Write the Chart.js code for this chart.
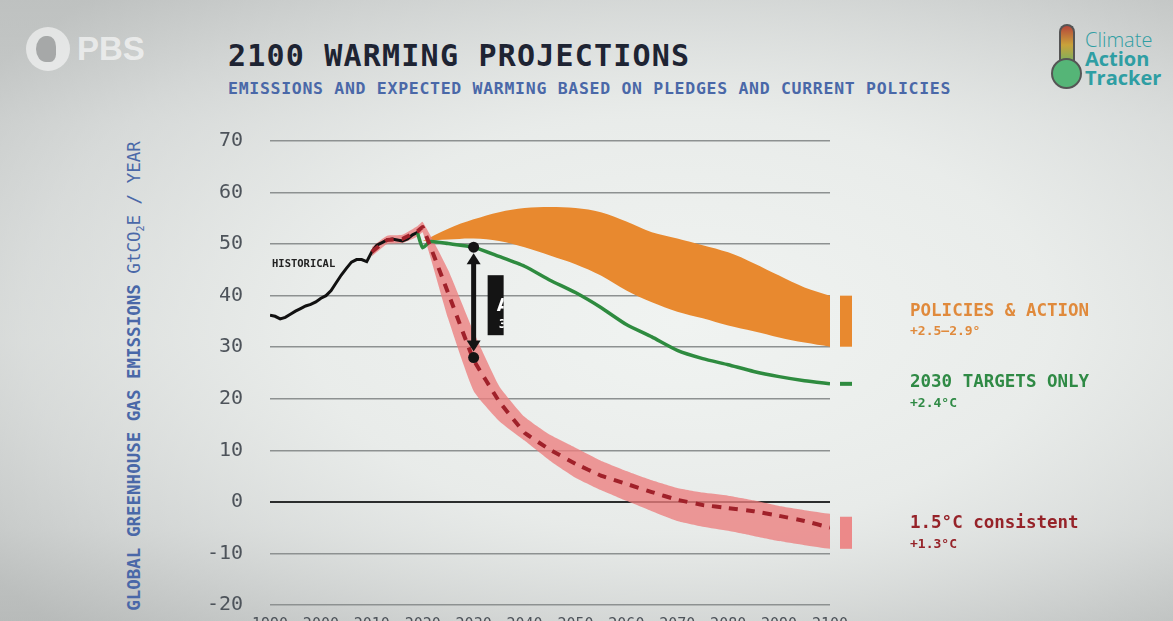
<!DOCTYPE html>
<html>
<head>
<meta charset="utf-8">
<script src="https://cdn.jsdelivr.net/npm/chart.js@4.4.1/dist/chart.umd.min.js"></script>
<style>
  html, body { margin: 0; padding: 0; width: 1173px; height: 621px; overflow: hidden; }
  body {
    position: relative;
    font-family: "DejaVu Sans Mono", monospace;
    background:
      radial-gradient(ellipse 70% 75% at 58% 52%, rgba(240,243,241,1) 0%, rgba(234,237,235,0.9) 45%, rgba(210,213,212,0.6) 80%, rgba(185,188,187,0.6) 100%),
      linear-gradient(to bottom, #c6c9c8 0%, #dde0df 20%, #e6e9e7 55%, #d3d6d5 85%, #b6b9b8 100%);
  }
  #chart { position: absolute; left: 0; top: 0; }
  .title { position: absolute; left: 228px; top: 41px; font-size: 30px; line-height: 30px; letter-spacing: 1.2px; font-weight: bold; color: #1e2433; white-space: nowrap; }
  .subtitle { position: absolute; left: 228px; top: 81px; font-size: 16.5px; line-height: 16.5px; letter-spacing: 0.7px; font-weight: bold; color: #4a68a8; white-space: nowrap; }
  .ytitle { position: absolute; left: 135px; top: 376px; transform: translate(-50%, -50%) rotate(-90deg); font-size: 17.5px; color: #4a68a8; white-space: nowrap; }
  .ytitle b { font-weight: bold; }
  .ytitle sub { font-size: 10px; }
  .pbs { position: absolute; left: 26px; top: 27px; width: 44px; height: 44px; border-radius: 50%; background: rgba(255,255,255,0.55); }
  .pbs::after { content: ""; position: absolute; left: 10px; top: 9px; width: 20px; height: 26px; border-radius: 50% 40% 30% 50%; background: rgba(150,153,152,0.8); }
  .pbstext { position: absolute; left: 77px; top: 30px; font-family: "Liberation Sans", sans-serif; font-weight: bold; font-size: 33px; line-height: 38px; color: rgba(255,255,255,0.62); }
  .thermo { position: absolute; left: 1059px; top: 24px; width: 12px; height: 42px; border: 2px solid #555; border-bottom: none; border-radius: 8px 8px 0 0; background: linear-gradient(to bottom, #b5473a 0%, #c9a23a 45%, #5db56c 100%); }
  .bulb { position: absolute; left: 1051px; top: 58px; width: 27px; height: 27px; border: 2px solid #555; border-radius: 50%; background: #55b577; }
  .cat { position: absolute; left: 1085px; top: 30px; font-family: "Open Sans", sans-serif; font-size: 20px; line-height: 19px; color: #2f9ea3; white-space: nowrap; }
  .cat b { font-weight: bold; display: block; }
  .cat span { display: block; font-weight: 300; }
</style>
</head>
<body>
<div class="pbs"></div>
<div class="pbstext">PBS</div>
<div class="thermo"></div>
<div class="bulb"></div>
<div class="cat"><span>Climate</span><b>Action</b><b>Tracker</b></div>
<div class="title">2100 WARMING PROJECTIONS</div>
<div class="subtitle">EMISSIONS AND EXPECTED WARMING BASED ON PLEDGES AND CURRENT POLICIES</div>
<div class="ytitle"><b>GLOBAL GREENHOUSE GAS EMISSIONS</b> GtCO<sub>2</sub>E / YEAR</div>
<canvas id="chart" width="1173" height="650"></canvas>
<script>
// historical emissions, GtCO2e / year
const histYears = [1990, 1991, 1992, 1993, 1994, 1995, 1996, 1997, 1998, 1999,
                   2000, 2001, 2002, 2003, 2004, 2005, 2006, 2007, 2008, 2009,
                   2010, 2011, 2012, 2013, 2014, 2015, 2016, 2017, 2018, 2019];
const histValues = [36.2, 36.0, 35.5, 35.8, 36.4, 37.0, 37.5, 38.0, 38.3, 38.8,
                    39.5, 40.0, 41.0, 42.5, 44.0, 45.3, 46.5, 47.0, 47.0, 46.6,
                    48.5, 49.8, 50.3, 50.8, 51.0, 50.8, 50.6, 51.0, 51.8, 52.3];

// policies & action range
const projYears = [2020, 2025, 2030, 2035, 2040, 2045, 2050, 2055, 2060,
                   2065, 2070, 2075, 2080, 2085, 2090, 2095, 2100];
const policyHigh = [50.6, 53, 54.8, 56.2, 57, 57.2, 57, 56.2, 54.4, 52.3, 51.1, 49.8, 48.4, 46.3, 43.9, 41.6, 40];
const policyLow = [50.6, 50.9, 51.1, 50.6, 49.4, 47.8, 46.1, 43.9, 41, 38.7, 36.9, 35.6, 34.2, 33.1, 31.9, 30.9, 30.1];

// 2030 targets only
const targetYears = [2019, 2020, 2021.5, 2025, 2030, 2035, 2040, 2045, 2050, 2055,
                     2060, 2065, 2070, 2075, 2080, 2085, 2090, 2095, 2100];
const targetValues = [52.1, 49.3, 50.5, 50.1, 49.4, 47.6, 45.7, 43, 40.6, 37.7,
                      34.4, 32, 29.4, 27.8, 26.6, 25.3, 24.3, 23.5, 22.9];

// 1.5C consistent pathway + range
const pathYears = [2010, 2013, 2016, 2019, 2020, 2025, 2030, 2035, 2040, 2045, 2050,
                   2055, 2060, 2065, 2070, 2075, 2080, 2085, 2090, 2095, 2100];
const pathValues = [48.5, 50.8, 51, 52.5, 53.3, 40.5, 27.5, 19.5, 13.4, 10.1, 7.4,
                    5.1, 3.5, 1.9, 0.4, -0.6, -1.2, -1.8, -2.7, -3.7, -5];
const pathHigh = [49.4, 51.6, 51.8, 53.5, 54.3, 45, 33, 22.5, 16.5, 13, 10.5,
                  8, 6, 4.2, 2.7, 1.8, 1.2, 0.3, -0.8, -1.6, -2.3];
const pathLow = [47.6, 50, 50.2, 51.5, 52.3, 35.5, 21.5, 15.7, 11.9, 8, 4.7,
                 2.3, 0.2, -1.8, -3.7, -4.8, -5.6, -6.6, -7.6, -8.4, -9.1];

// gap arrow at 2030 (between targets and 1.5C path)
const gapYear = 2030;
const gapTop = 49.4;
const gapBottom = 28;

const yTicks = [-20, -10, 0, 10, 20, 30, 40, 50, 60, 70];
const xTicks = [1990, 2000, 2010, 2020, 2030, 2040, 2050, 2060, 2070, 2080, 2090, 2100];

const pts = (xs, ys) => xs.map((x, i) => ({ x: x, y: ys[i] }));
const last = arr => arr[arr.length - 1];

const ORANGE = '#e8892f';
const PINK = 'rgba(236, 126, 126, 0.78)';
const GREEN = '#2e8b3f';
const DARKRED = '#a0212a';

const annotate = {
  id: 'annotate',
  afterDatasetsDraw(chart) {
    const { ctx, chartArea: a, scales: { x, y } } = chart;
    ctx.save();

    // gap arrow
    const ax = x.getPixelForValue(gapYear);
    const y1 = y.getPixelForValue(gapTop);
    const y2 = y.getPixelForValue(gapBottom);
    ctx.fillStyle = '#141414';
    ctx.strokeStyle = '#141414';
    ctx.lineWidth = 5;
    ctx.beginPath();
    ctx.moveTo(ax, y1 + 12);
    ctx.lineTo(ax, y2 - 12);
    ctx.stroke();
    ctx.beginPath();
    ctx.moveTo(ax - 7, y1 + 17); ctx.lineTo(ax, y1 + 6); ctx.lineTo(ax + 7, y1 + 17);
    ctx.closePath(); ctx.fill();
    ctx.beginPath();
    ctx.moveTo(ax - 7, y2 - 17); ctx.lineTo(ax, y2 - 6); ctx.lineTo(ax + 7, y2 - 17);
    ctx.closePath(); ctx.fill();
    ctx.beginPath(); ctx.arc(ax, y1, 5.5, 0, Math.PI * 2); ctx.fill();
    ctx.beginPath(); ctx.arc(ax, y2, 5.5, 0, Math.PI * 2); ctx.fill();

    // half-revealed label box
    const bx = ax + 14, by = y1 + 28;
    ctx.fillRect(bx, by, 16, 60);
    ctx.save();
    ctx.beginPath(); ctx.rect(bx, by, 16, 60); ctx.clip();
    ctx.fillStyle = '#ffffff';
    ctx.font = 'bold 17px "DejaVu Sans"';
    ctx.fillText('A', bx + 9, by + 36);
    ctx.font = 'bold 12px "DejaVu Sans"';
    ctx.fillText('3', bx + 11, by + 53);
    ctx.restore();

    // end-of-century markers
    const mx = a.right + 10;
    ctx.fillStyle = ORANGE;
    const oT = y.getPixelForValue(last(policyHigh)), oB = y.getPixelForValue(last(policyLow));
    ctx.fillRect(mx, oT, 12, oB - oT);
    ctx.fillStyle = GREEN;
    const gY = y.getPixelForValue(last(targetValues));
    ctx.fillRect(mx, gY - 2, 12, 4);
    ctx.fillStyle = 'rgba(236, 126, 126, 0.9)';
    const pT = y.getPixelForValue(last(pathHigh)) + 3, pB = y.getPixelForValue(last(pathLow));
    ctx.fillRect(mx, pT, 12, pB - pT);

    // labels
    const lx = a.right + 80;
    ctx.textAlign = 'left';
    ctx.textBaseline = 'alphabetic';
    ctx.fillStyle = '#e08a3c';
    ctx.font = 'bold 17.5px "DejaVu Sans Mono"';
    ctx.fillText('POLICIES & ACTION', lx, 316);
    ctx.font = 'bold 13px "DejaVu Sans Mono"';
    ctx.fillText('+2.5\u20132.9\u00b0', lx, 335);
    ctx.fillStyle = '#2f8a45';
    ctx.font = 'bold 17.5px "DejaVu Sans Mono"';
    ctx.fillText('2030 TARGETS ONLY', lx, 387);
    ctx.font = 'bold 13px "DejaVu Sans Mono"';
    ctx.fillText('+2.4\u00b0C', lx, 407);
    ctx.fillStyle = '#962329';
    ctx.font = 'bold 17.5px "DejaVu Sans Mono"';
    ctx.fillText('1.5\u00b0C consistent', lx, 528);
    ctx.font = 'bold 13px "DejaVu Sans Mono"';
    ctx.fillText('+1.3\u00b0C', lx, 548);

    ctx.fillStyle = '#222222';
    ctx.font = 'bold 10.5px "DejaVu Sans Mono"';
    ctx.fillText('HISTORICAL', x.getPixelForValue(1990) + 2, 267);

    ctx.restore();
  }
};

new Chart(document.getElementById('chart'), {
  type: 'line',
  data: {
    datasets: [
      { data: pts(projYears, policyHigh), borderWidth: 0, backgroundColor: ORANGE, fill: '+1', tension: 0.35, order: 5 },
      { data: pts(projYears, policyLow), borderWidth: 0, fill: false, tension: 0.35, order: 5 },
      { data: pts(pathYears, pathHigh), borderWidth: 0, backgroundColor: PINK, fill: '+1', tension: 0.15, order: 4 },
      { data: pts(pathYears, pathLow), borderWidth: 0, fill: false, tension: 0.15, order: 4 },
      { data: pts(histYears, histValues), borderColor: '#111111', borderWidth: 3, fill: false, tension: 0, order: 2 },
      { data: pts(targetYears, targetValues), borderColor: GREEN, borderWidth: 3.5, fill: false, tension: 0.2, order: 1 },
      { data: pts(pathYears, pathValues), borderColor: DARKRED, borderWidth: 4, borderDash: [9, 8], fill: false, tension: 0.05, order: 0 }
    ]
  },
  options: {
    responsive: false,
    animation: false,
    events: [],
    elements: { point: { radius: 0 } },
    layout: { padding: { left: 120, top: 141, right: 343, bottom: 0 } },
    plugins: { legend: { display: false }, tooltip: { enabled: false } },
    scales: {
      x: {
        type: 'linear',
        min: 1990,
        max: 2100,
        afterFit(scale) { scale.height = 45; },
        afterBuildTicks(scale) { scale.ticks = xTicks.map(v => ({ value: v })); },
        grid: { display: false, drawTicks: false },
        border: { display: false },
        ticks: {
          color: '#4d535a',
          font: { family: '"DejaVu Sans Mono"', size: 15 },
          padding: 11,
          maxRotation: 0,
          autoSkip: false,
          callback: v => String(v)
        }
      },
      y: {
        min: -20,
        max: 70,
        afterFit(scale) { scale.width = 150; },
        afterBuildTicks(scale) { scale.ticks = yTicks.map(v => ({ value: v })); },
        border: { display: false },
        grid: {
          drawTicks: false,
          color: ctx => ctx.tick && ctx.tick.value === 0 ? '#2b2d2d' : '#8d9191',
          lineWidth: ctx => ctx.tick && ctx.tick.value === 0 ? 2 : 1.6
        },
        ticks: {
          color: '#4d535a',
          font: { family: '"DejaVu Sans Mono"', size: 20 },
          padding: 27,
          callback: v => String(v)
        }
      }
    }
  },
  plugins: [annotate]
});
</script>
</body>
</html>
